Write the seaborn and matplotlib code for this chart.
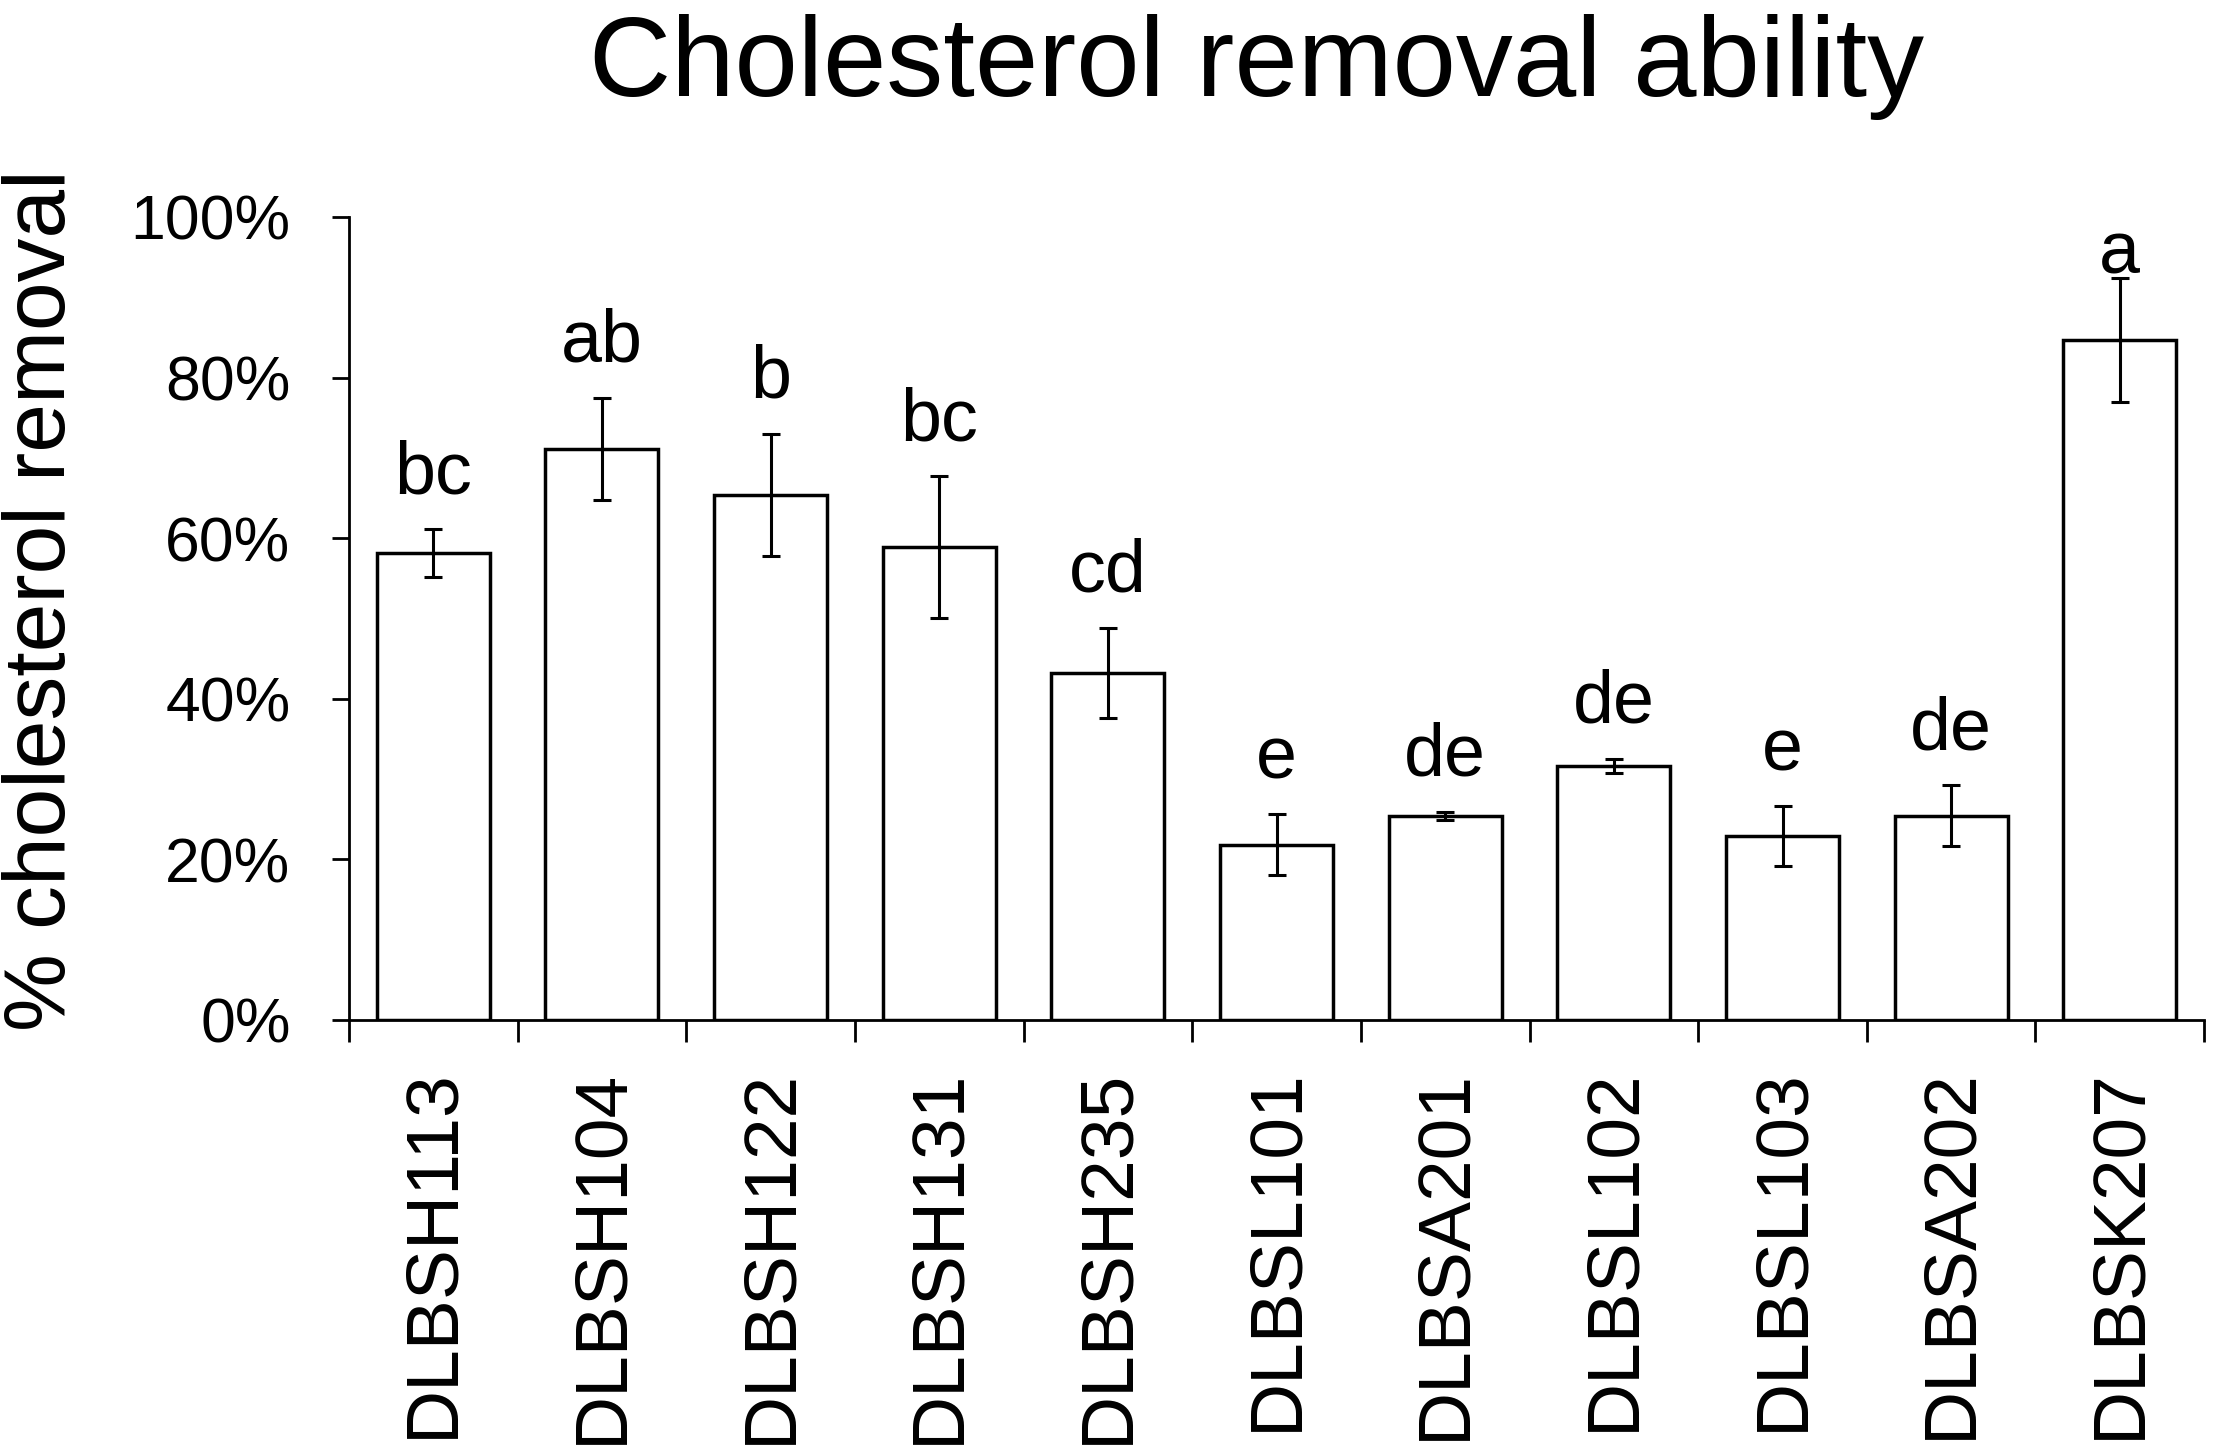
import numpy as np
import pandas as pd
import seaborn as sns
import matplotlib.pyplot as plt
from matplotlib.ticker import PercentFormatter, FixedLocator

# Data (fraction of cholesterol removed, +/- error)
strains = ['DLBSH113', 'DLBSH104', 'DLBSH122', 'DLBSH131', 'DLBSH235', 'DLBSL101',
           'DLBSA201', 'DLBSL102', 'DLBSL103', 'DLBSA202', 'DLBSK207']
removal = [0.581, 0.711, 0.654, 0.589, 0.432, 0.218, 0.254, 0.316, 0.229, 0.254, 0.847]
error = [0.030, 0.064, 0.076, 0.088, 0.056, 0.038, 0.005, 0.009, 0.037, 0.038, 0.077]
groups = ['bc', 'ab', 'b', 'bc', 'cd', 'e', 'de', 'de', 'e', 'de', 'a']

df = pd.DataFrame({'strain': strains, 'removal': removal, 'error': error, 'group': groups})

sns.set_style('white')
plt.rcParams['font.family'] = ['Liberation Sans', 'DejaVu Sans']
plt.rcParams['text.color'] = 'black'
plt.rcParams['xtick.color'] = 'black'
plt.rcParams['ytick.color'] = 'black'
plt.rcParams['axes.labelcolor'] = 'black'

fig = plt.figure(figsize=(22.17, 14.56), dpi=100)
ax = fig.add_axes([0.1574, 0.2995, 0.8368, 0.5515])

sns.barplot(data=df, x='strain', y='removal', color='white', edgecolor='black',
            linewidth=2.5, width=0.67, saturation=1, ax=ax)
ax.errorbar(np.arange(len(df)), df['removal'], yerr=df['error'], fmt='none',
            ecolor='black', elinewidth=2.2, capsize=6.5, capthick=2.2)

# significance letters above each error bar
for i, row in df.iterrows():
    y = min(row['removal'] + row['error'] + 0.045, 0.93)
    ax.text(i, y, row['group'], ha='center', va='baseline', fontsize=53)

ax.set_xlim(-0.5, len(df) - 0.5)
ax.set_ylim(0, 1.0)
ax.set_yticks(np.arange(0, 1.01, 0.2))
ax.yaxis.set_major_formatter(PercentFormatter(1.0, decimals=0))
ax.set_xlabel('')
ax.set_ylabel('')

# Excel-like category ticks between bars
ax.xaxis.set_minor_locator(FixedLocator(np.arange(-0.5, len(df), 1.0)))
ax.tick_params(axis='x', which='major', length=0, pad=35, labelsize=54, labelrotation=90)
ax.tick_params(axis='x', which='minor', length=16, width=2, color='black', direction='out', bottom=True)
ax.tick_params(axis='y', length=12, width=2, color='black', direction='out', pad=30,
               labelsize=45, left=True)

for side in ['top', 'right']:
    ax.spines[side].set_visible(False)
for side in ['left', 'bottom']:
    ax.spines[side].set_color('black')
    ax.spines[side].set_linewidth(2)

fig.text(0.567, 0.934, 'Cholesterol removal ability', ha='center', va='baseline', fontsize=82)
fig.text(0.019, 0.588, '% cholesterol removal', ha='center', va='center', rotation=90, fontsize=63)

fig.savefig('out.png', dpi=100)
